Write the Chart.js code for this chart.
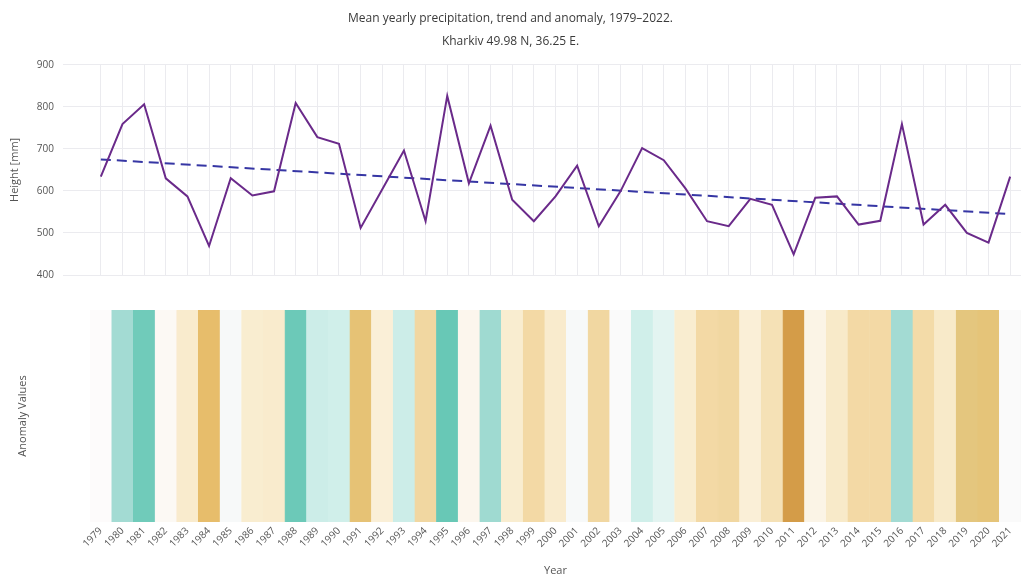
<!DOCTYPE html>
<html>
<head>
<meta charset="utf-8">
<script src="https://cdn.jsdelivr.net/npm/chart.js@4/dist/chart.umd.min.js"></script>
<style>
  html, body { margin: 0; padding: 0; background: #ffffff; }
  #wrap { position: relative; width: 1024px; height: 576px; overflow: hidden; }
  canvas { position: absolute; left: 0; }
  #top { top: 0; }
  #bottom { top: 290px; }
</style>
</head>
<body>
<div id="wrap">
  <canvas id="top" width="1024" height="290"></canvas>
  <canvas id="bottom" width="1024" height="286"></canvas>
</div>
<script>
// Years on the x axis
const years = [1979, 1980, 1981, 1982, 1983, 1984, 1985, 1986, 1987, 1988,
               1989, 1990, 1991, 1992, 1993, 1994, 1995, 1996, 1997, 1998,
               1999, 2000, 2001, 2002, 2003, 2004, 2005, 2006, 2007, 2008,
               2009, 2010, 2011, 2012, 2013, 2014, 2015, 2016, 2017, 2018,
               2019, 2020, 2021];

// Mean yearly precipitation, mm
const precip = [634, 759, 806, 630, 587, 469, 630, 589, 599, 809,
                728, 712, 512, 604, 696, 528, 826, 618, 755, 579,
                528, 587, 660, 516, 599, 702, 673, 606, 528, 516,
                581, 567, 449, 584, 587, 520, 529, 759, 520, 567,
                500, 477, 634];

// Linear trend, value at the first and at the last year, mm
const trendEnds = [675, 545];

// Yearly anomaly, mm
const anomaly = [0, 130, 190, -5, -35, -160, 10, -30, -35, 195,
                 75, 70, -150, -25, 75, -100, 200, -10, 135, -30,
                 -95, -35, 10, -100, 5, 70, 40, -30, -95, -100,
                 -25, -70, -185, -15, -40, -95, -95, 130, -90, -40,
                 -140, -145, 5];

// Precipitation axis ticks
const yTicks = [400, 500, 600, 700, 800, 900];

// Diverging brown-white-teal scale for the anomaly strip
const anomalyScale = [
  [-185, [212, 156, 72]],
  [-160, [231, 189, 107]],
  [-140, [228, 198, 126]],
  [-95,  [243, 217, 165]],
  [-30,  [249, 237, 208]],
  [0,    [253, 251, 251]],
  [70,   [208, 239, 234]],
  [130,  [163, 219, 211]],
  [200,  [104, 200, 182]]
];

function anomalyColor(v) {
  const s = anomalyScale;
  if (v <= s[0][0]) return 'rgb(' + s[0][1].join(',') + ')';
  for (let i = 1; i < s.length; i++) {
    if (v <= s[i][0]) {
      const t = (v - s[i - 1][0]) / (s[i][0] - s[i - 1][0]);
      const c = s[i - 1][1].map((a, j) => Math.round(a + (s[i][1][j] - a) * t));
      return 'rgb(' + c.join(',') + ')';
    }
  }
  return 'rgb(' + s[s.length - 1][1].join(',') + ')';
}

const FONT = "'Open Sans', 'DejaVu Sans', sans-serif";
const TEXT = '#555555';
const GRID = '#ebebef';
const AXIS_W = 90;

Chart.defaults.font.family = FONT;
Chart.defaults.color = TEXT;

const labels = years.map(String);

// Trend drawn between the first and the last year
const trendData = years.map((_, i) =>
  i === 0 ? trendEnds[0] : (i === years.length - 1 ? trendEnds[1] : null));

new Chart(document.getElementById('top'), {
  type: 'line',
  data: {
    labels: labels,
    datasets: [
      {
        label: 'Precipitation',
        data: precip,
        borderColor: '#6a2a8a',
        borderWidth: 2,
        pointRadius: 0,
        tension: 0,
        fill: false
      },
      {
        label: 'Trend',
        data: trendData,
        borderColor: '#3636a4',
        borderWidth: 2,
        borderDash: [10, 6],
        pointRadius: 0,
        spanGaps: true,
        fill: false
      }
    ]
  },
  options: {
    responsive: false,
    animation: false,
    devicePixelRatio: 1,
    layout: { padding: { left: 0, right: 3, top: 0, bottom: 13 } },
    plugins: {
      legend: { display: false },
      tooltip: { enabled: false },
      title: {
        display: true,
        text: 'Mean yearly precipitation, trend and anomaly, 1979–2022.',
        color: '#3a3a3a',
        font: { size: 12, weight: 'normal' },
        padding: { top: 11, bottom: 0 }
      },
      subtitle: {
        display: true,
        text: 'Kharkiv 49.98 N, 36.25 E.',
        color: '#3a3a3a',
        font: { size: 12, weight: 'normal' },
        padding: { top: 9, bottom: 16 }
      }
    },
    scales: {
      x: {
        type: 'category',
        offset: true,
        ticks: { display: false },
        grid: { display: true, offset: false, color: GRID, drawTicks: false },
        border: { display: false }
      },
      y: {
        min: 400,
        max: 900,
        afterBuildTicks: s => { s.ticks = yTicks.map(v => ({ value: v })); },
        afterFit: s => { s.width = AXIS_W; },
        ticks: { font: { size: 10 }, padding: 9, color: TEXT },
        grid: { color: GRID, tickLength: 27, drawTicks: true },
        border: { display: false },
        title: {
          display: true,
          text: 'Height [mm]',
          font: { size: 11, lineHeight: 1 },
          color: TEXT,
          padding: { top: 9, bottom: 0 }
        }
      }
    }
  }
});

new Chart(document.getElementById('bottom'), {
  type: 'bar',
  data: {
    labels: labels,
    datasets: [{
      label: 'Anomaly',
      data: anomaly.map(() => 1),
      backgroundColor: anomaly.map(anomalyColor),
      borderColor: anomaly.map(anomalyColor),
      borderWidth: 0.6,
      barPercentage: 1,
      categoryPercentage: 1
    }]
  },
  options: {
    responsive: false,
    animation: false,
    devicePixelRatio: 1,
    layout: { padding: { left: 0, right: 3, top: 20, bottom: 0 } },
    plugins: { legend: { display: false }, tooltip: { enabled: false } },
    scales: {
      x: {
        type: 'category',
        offset: true,
        afterFit: s => { s.height = 54; },
        ticks: {
          autoSkip: false,
          minRotation: 45,
          maxRotation: 45,
          font: { size: 10 },
          color: TEXT,
          padding: 3
        },
        grid: { display: false, drawTicks: false },
        border: { display: false },
        title: {
          display: true,
          text: 'Year',
          font: { size: 11, lineHeight: 1 },
          color: TEXT,
          padding: { top: 0, bottom: 0 }
        }
      },
      y: {
        min: 0,
        max: 1,
        afterFit: s => { s.width = AXIS_W; },
        ticks: { display: false },
        grid: { display: false, drawTicks: false },
        border: { display: false },
        title: {
          display: true,
          text: 'Anomaly Values',
          font: { size: 11, lineHeight: 1 },
          color: TEXT,
          padding: { top: 17, bottom: 0 }
        }
      }
    }
  }
});
</script>
</body>
</html>
